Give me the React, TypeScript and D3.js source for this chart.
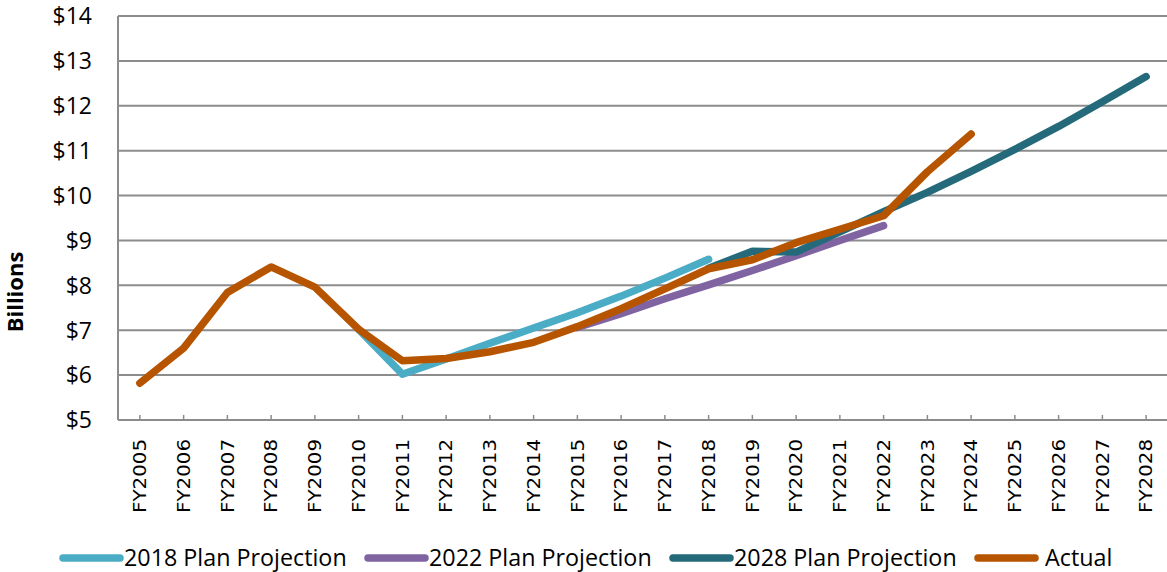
import React from "react";
import * as d3 from "d3";

const years = [
  "FY2005","FY2006","FY2007","FY2008","FY2009","FY2010","FY2011","FY2012",
  "FY2013","FY2014","FY2015","FY2016","FY2017","FY2018","FY2019","FY2020",
  "FY2021","FY2022","FY2023","FY2024","FY2025","FY2026","FY2027","FY2028",
];

const plan2018Years = ["FY2010","FY2011","FY2012","FY2013","FY2014","FY2015","FY2016","FY2017","FY2018"];
const plan2018 = [7.02, 6.02, 6.36, 6.71, 7.05, 7.39, 7.76, 8.16, 8.58];

const plan2022Years = ["FY2015","FY2016","FY2017","FY2018","FY2019","FY2020","FY2021","FY2022"];
const plan2022 = [7.06, 7.37, 7.70, 8.01, 8.33, 8.66, 9.00, 9.33];

const plan2028Years = ["FY2018","FY2019","FY2020","FY2021","FY2022","FY2023","FY2024","FY2025","FY2026","FY2027","FY2028"];
const plan2028 = [8.38, 8.76, 8.74, 9.19, 9.64, 10.07, 10.54, 11.03, 11.54, 12.09, 12.65];

const actualYears = [
  "FY2005","FY2006","FY2007","FY2008","FY2009","FY2010","FY2011","FY2012","FY2013","FY2014",
  "FY2015","FY2016","FY2017","FY2018","FY2019","FY2020","FY2021","FY2022","FY2023","FY2024",
];
const actual = [5.82, 6.60, 7.84, 8.41, 7.96, 7.02, 6.32, 6.37, 6.52, 6.73, 7.08, 7.48, 7.92, 8.37, 8.57, 8.95, 9.25, 9.55, 10.53, 11.37];

const yTicks = [5, 6, 7, 8, 9, 10, 11, 12, 13, 14];

const seriesNames = ["2018 Plan Projection", "2022 Plan Projection", "2028 Plan Projection", "Actual"];
const seriesColors = ["#4bacc6", "#8064a2", "#246a7b", "#b65400"];

const W = 1167;
const H = 572;
const left = 118;
const right = 1168;
const top = 16;
const bottom = 420;

export default function App() {
  const x = d3.scaleBand<string>().domain(years).range([left, right]).paddingInner(0).paddingOuter(0);
  const cx = (k: string) => (x(k) as number) + x.bandwidth() / 2;
  const y = d3.scaleLinear().domain([5, 14]).range([bottom, top]);

  const mk = (ks: string[], vs: number[]) =>
    d3.line<number>().x((_, i) => cx(ks[i])).y((v) => y(v))(vs) as string;

  const series = [
    mk(plan2018Years, plan2018),
    mk(plan2022Years, plan2022),
    mk(plan2028Years, plan2028),
    mk(actualYears, actual),
  ];

  const font = "'Open Sans', sans-serif";

  return (
    <svg width={W} height={H} style={{ position: "absolute", left: 0, top: 0, background: "#fff" }}>
      {yTicks.map((t) => (
        <line key={"g" + t} x1={left} x2={W} y1={y(t)} y2={y(t)} stroke="#8c8c8c" strokeWidth={2} />
      ))}
      <line x1={left} x2={left} y1={top} y2={bottom} stroke="#8c8c8c" strokeWidth={2} />
      {years.map((k) => (
        <line key={"t" + k} x1={cx(k)} x2={cx(k)} y1={bottom - 5} y2={bottom} stroke="#8c8c8c" strokeWidth={1.5} />
      ))}
      {yTicks.map((t) => (
        <text key={"yl" + t} x={92} y={y(t)} dy="0.36em" textAnchor="end" fontFamily={font} fontSize={23} fill="#000">
          {"$" + t}
        </text>
      ))}
      {years.map((k) => (
        <text
          key={"xl" + k}
          transform={`translate(${cx(k)},439) rotate(-90)`}
          textAnchor="end"
          dy="0.36em"
          fontFamily="'DejaVu Sans', sans-serif"
          fontSize={17.5}
          textLength={74}
          lengthAdjust="spacingAndGlyphs"
          fill="#000"
        >
          {k}
        </text>
      ))}
      <text
        transform={`translate(15,292) rotate(-90)`}
        textAnchor="middle"
        dy="0.36em"
        fontFamily={font}
        fontWeight="bold"
        fontSize={22}
        fill="#000"
      >
        Billions
      </text>
      {series.map((d, i) => (
        <path key={"s" + i} d={d} fill="none" stroke={seriesColors[i]} strokeWidth={7.5} strokeLinecap="round" strokeLinejoin="round" />
      ))}
      {seriesNames.map((n, i) => {
        const x0 = 63 + i * 305;
        return (
          <g key={"lg" + i}>
            <line x1={x0} x2={x0 + 57} y1={558} y2={558} stroke={seriesColors[i]} strokeWidth={7.5} strokeLinecap="round" />
            <text x={i === 3 ? x0 + 67 : x0 + 61} y={558} dy="0.36em" fontFamily={font} fontSize={23.3} fill="#000">
              {n}
            </text>
          </g>
        );
      })}
    </svg>
  );
}
